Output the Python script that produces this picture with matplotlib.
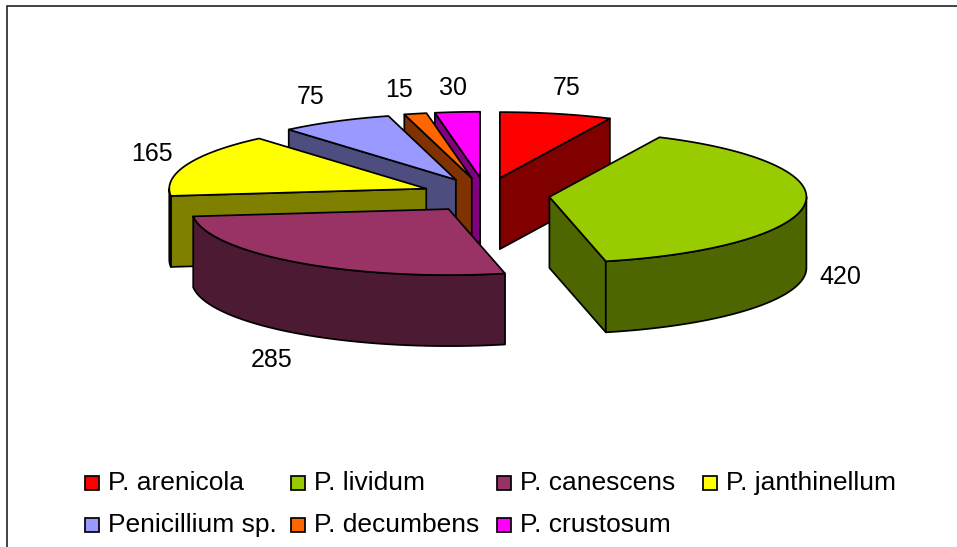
import matplotlib
matplotlib.use("Agg")
import matplotlib.pyplot as plt
import numpy as np

species = ["P. arenicola", "P. lividum", "P. canescens", "P. janthinellum",
           "Penicillium sp.", "P. decumbens", "P. crustosum"]
counts = [75, 420, 285, 165, 75, 15, 30]
top_colors = ["#FF0000", "#99CC00", "#993366", "#FFFF00", "#9999FF", "#FF6600", "#FF00FF"]
side_colors = ["#800000", "#4D6600", "#4D1A33", "#808000", "#4D4D80", "#803300", "#800080"]

# layout, in pixels of the 957x547 picture
CX, CY = 485.8, 195.0
RX, RY = 257.0, 66.0
DEPTH = 71.0
EXPLODE_X, EXPLODE_Y = 64.0, 17.3
LW = 1.25

label_pos = [(567, 88), (840, 277), (272, 360), (152, 154), (311, 97), (399, 90), (453, 88)]
legend_pos = [(85, 483), (291, 483), (497, 483), (703, 483), (85, 525), (291, 525), (497, 525)]

plt.rcParams["font.family"] = ["Liberation Sans", "DejaVu Sans"]

fig = plt.figure(figsize=(9.57, 5.47), dpi=100)
ax = fig.add_axes([0, 0, 1, 1])
ax.set_xlim(0, 957)
ax.set_ylim(547, 0)
ax.axis("off")


def arc(tip, start, end):
    t = np.linspace(start, end, max(int(end - start) * 2, 2))
    t = np.radians(t)
    return tip[0] + RX * np.sin(t), tip[1] - RY * np.cos(t)


def poly(xs, ys, color, z):
    ax.fill(xs, ys, facecolor=color, edgecolor="black", linewidth=LW, joinstyle="round", zorder=z)


def draw_slice(i, start, end, z):
    mid = np.radians((start + end) / 2)
    tip = (CX + EXPLODE_X * np.sin(mid), CY - EXPLODE_Y * np.cos(mid))

    # side walls along the two radii, only where they face the viewer
    for angle, visible in ((start, np.sin(np.radians(start)) < 0), (end, np.sin(np.radians(end)) > 0)):
        if visible:
            ex, ey = arc(tip, angle, angle + 0.01)
            ex, ey = ex[0], ey[0]
            poly([tip[0], ex, ex, tip[0]], [tip[1], ey, ey + DEPTH, tip[1] + DEPTH], side_colors[i], z)

    # rim, front half of the ellipse
    a, b = max(start, 90), min(end, 270)
    if a < b:
        xs, ys = arc(tip, a, b)
        poly(np.r_[xs, xs[::-1]], np.r_[ys, ys[::-1] + DEPTH], side_colors[i], z)

    xs, ys = arc(tip, start, end)
    poly(np.r_[tip[0], xs], np.r_[tip[1], ys], top_colors[i], z)


angles = np.cumsum([0] + counts) / sum(counts) * 360

# back to front
draw_order = [6, 5, 4, 3, 0, 1, 2]
for z, i in enumerate(draw_order):
    draw_slice(i, angles[i], angles[i + 1], z + 2)

for c, (x, y) in zip(counts, label_pos):
    ax.text(x, y, str(c), fontsize=18, ha="center", va="center", color="black", zorder=20)

for name, color, (x, y) in zip(species, top_colors, legend_pos):
    ax.add_patch(plt.Rectangle((x, y - 7), 14, 14, facecolor=color, edgecolor="black", linewidth=LW, zorder=20))
    ax.text(x + 23, y, name, fontsize=19, ha="left", va="center", color="black", zorder=20)

# chart frame, cut off by the picture on the right and at the bottom
ax.plot([7, 7, 957], [547, 6, 6], color="#222222", linewidth=1.2, solid_joinstyle="miter", zorder=1)

fig.savefig("out.png", dpi=100)
